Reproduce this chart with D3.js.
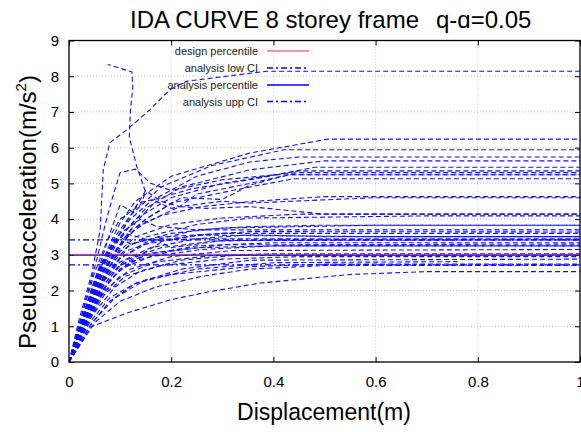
<!DOCTYPE html>
<html>
<head>
<meta charset="utf-8">
<script src="https://cdnjs.cloudflare.com/ajax/libs/d3/7.8.5/d3.min.js"></script>
<style>
  body { margin: 0; background: #fff; }
  svg { display: block; font-family: "Liberation Sans", Arial, sans-serif; }
</style>
</head>
<body>
<svg id="chart" width="581" height="432"></svg>
<script>
// tick values
var xTicks = [0, 0.2, 0.4, 0.6, 0.8, 1];
var yTicks = [0, 1, 2, 3, 4, 5, 6, 7, 8, 9];

// horizontal reference levels (m/s^2)
var designPercentile = 3.01;
var analysisPercentile = 2.99;
var analysisLowCI = 2.72;
var analysisUppCI = 3.42;

var legendLabels = ["design percentile", "analysis low CI", "analysis percentile", "analysis upp CI"];

// IDA curves, [displacement (m), pseudoacceleration (m/s^2)]
var idaCurves = [
    [[0,0],[0.02,1.2],[0.045,2.5],[0.061,3.7],[0.067,5.38],[0.08,6.14],[0.113,6.5],[0.158,7.06],[0.198,7.63],[0.23,7.86],[0.387,8.14],[1,8.14]],
    [[0,0],[0.025,1.3],[0.05,2.5],[0.075,3.4],[0.1,4.0],[0.14,4.4],[0.15,4.75],[0.132,5.5],[0.118,6.3],[0.12,7.0],[0.125,7.7],[0.123,8.12],[0.076,8.33]],
    [[0,0],[0.03,1.4],[0.055,2.5],[0.08,3.3],[0.1,3.9],[0.13,4.5],[0.2,5.2],[0.354,5.85],[0.507,6.24],[1,6.24]],
    [[0,0],[0.03,1.3],[0.06,2.6],[0.09,3.5],[0.12,4.1],[0.18,4.9],[0.28,5.5],[0.42,5.94],[1,5.94]],
    [[0,0],[0.035,1.5],[0.065,2.7],[0.09,3.4],[0.12,4.0],[0.16,4.5],[0.25,5.2],[0.354,5.6],[0.45,5.74],[1,5.74]],
    [[0,0],[0.03,1.2],[0.06,2.4],[0.1,3.5],[0.15,4.3],[0.22,4.9],[0.354,5.38],[0.5,5.63],[1,5.63]],
    [[0,0],[0.035,1.4],[0.07,2.8],[0.1,3.6],[0.135,4.45],[0.18,4.6],[0.24,4.85],[0.354,5.1],[0.48,5.45],[1,5.45]],
    [[0,0],[0.03,1.3],[0.06,2.5],[0.09,3.3],[0.13,4.0],[0.2,4.6],[0.3,5.0],[0.45,5.35],[1,5.35]],
    [[0,0],[0.04,1.6],[0.07,2.6],[0.1,3.3],[0.15,4.0],[0.22,4.6],[0.3,4.55],[0.354,4.95],[0.43,5.24],[1,5.24]],
    [[0,0],[0.03,1.2],[0.06,2.3],[0.09,3.1],[0.14,3.9],[0.2,4.45],[0.354,4.9],[0.44,5.13],[1,5.13]],
    [[0,0],[0.035,1.4],[0.065,2.5],[0.09,3.1],[0.12,3.7],[0.18,4.1],[0.26,4.35],[0.354,4.49],[0.5,4.63],[1,4.63]],
    [[0,0],[0.03,1.3],[0.06,2.4],[0.09,3.0],[0.13,3.5],[0.2,3.85],[0.3,4.03],[0.45,4.14],[1,4.14]],
    [[0,0],[0.04,1.5],[0.07,2.5],[0.1,3.1],[0.15,3.5],[0.25,3.85],[0.354,4.03],[0.7,4.09],[1,4.09]],
    [[0,0],[0.03,1.1],[0.06,2.1],[0.1,2.9],[0.15,3.35],[0.25,3.7],[0.354,3.79],[0.5,3.83],[1,3.83]],
    [[0,0],[0.035,1.3],[0.07,2.4],[0.1,2.9],[0.15,3.3],[0.25,3.55],[0.354,3.65],[1,3.64]],
    [[0,0],[0.03,1.2],[0.06,2.2],[0.1,2.8],[0.16,3.2],[0.25,3.45],[0.354,3.56],[0.5,3.51],[1,3.51]],
    [[0,0],[0.04,1.4],[0.07,2.3],[0.11,2.85],[0.18,3.2],[0.28,3.38],[0.4,3.42],[1,3.42]],
    [[0,0],[0.03,1.0],[0.06,1.9],[0.1,2.6],[0.15,3.0],[0.25,3.25],[0.4,3.34],[1,3.34]],
    [[0,0],[0.035,1.2],[0.07,2.1],[0.1,2.6],[0.16,2.95],[0.26,3.15],[0.4,3.25],[1,3.25]],
    [[0,0],[0.03,1.0],[0.06,1.8],[0.1,2.4],[0.17,2.8],[0.28,2.98],[0.4,3.03],[1,3.03]],
    [[0,0],[0.04,1.2],[0.07,1.9],[0.11,2.4],[0.18,2.7],[0.3,2.88],[0.45,2.95],[1,2.95]],
    [[0,0],[0.04,1.1],[0.08,1.8],[0.13,2.2],[0.2,2.45],[0.354,2.67],[0.5,2.74],[1,2.74]],
    [[0,0],[0.044,0.99],[0.113,1.37],[0.198,1.74],[0.276,1.97],[0.374,2.21],[0.55,2.45],[0.7,2.53],[1,2.53]],
    [[0,0],[0.03,1.3],[0.06,2.5],[0.08,3.1],[0.1,3.5],[0.12,3.3],[0.18,3.5],[0.3,3.6],[1,3.6]],
    [[0,0],[0.035,1.5],[0.06,2.6],[0.08,3.2],[0.11,3.6],[0.16,3.4],[0.25,3.45],[1,3.45]],
    [[0,0],[0.04,1.3],[0.08,2.3],[0.12,2.8],[0.2,3.1],[0.3,3.28],[1,3.3]],
    [[0,0],[0.035,1.1],[0.07,2.0],[0.12,2.6],[0.2,2.95],[0.32,3.12],[1,3.15]],
    [[0,0],[0.04,1.0],[0.08,1.7],[0.13,2.2],[0.22,2.6],[0.354,2.85],[1,2.88]],
    [[0,0],[0.045,1.1],[0.09,1.8],[0.15,2.3],[0.25,2.6],[0.4,2.78],[0.76,2.81]],
    [[0,0],[0.05,1.1],[0.1,1.7],[0.17,2.1],[0.26,2.4],[0.354,2.6],[0.5,2.7],[1,2.7]],
    [[0,0],[0.025,1.2],[0.05,2.3],[0.075,3.1],[0.1,3.6],[0.14,4.0],[0.17,3.8],[0.25,3.7],[1,3.7]],
    [[0,0],[0.03,1.6],[0.055,2.9],[0.07,3.8],[0.085,4.6],[0.1,5.3],[0.13,5.4],[0.16,5.0],[0.2,4.8],[0.3,5.1],[0.45,5.3],[1,5.3]],
    [[0,0],[0.035,1.6],[0.06,2.7],[0.08,3.6],[0.1,4.4],[0.125,4.2],[0.15,4.8],[0.18,4.5],[0.217,4.35],[0.3,4.5],[0.354,4.45],[0.6,4.6],[1,4.6]],
    [[0,0],[0.03,1.2],[0.07,2.4],[0.1,3.2],[0.13,3.9],[0.17,4.5],[0.2,4.3],[0.217,4.35],[0.25,4.7],[0.354,5.0],[0.43,5.24],[1,5.24]],
    [[0,0],[0.04,1.5],[0.08,2.8],[0.11,3.5],[0.15,3.9],[0.217,4.35],[0.27,4.3],[0.354,4.35],[0.5,4.14],[1,4.14]],
    [[0,0],[0.025,1.0],[0.05,1.9],[0.08,2.7],[0.12,3.3],[0.2,3.6],[0.3,3.75],[0.6,3.83],[1,3.83]],
    [[0,0],[0.04,1.4],[0.075,2.5],[0.11,3.1],[0.17,3.4],[0.26,3.55],[0.6,3.51],[1,3.51]],
    [[0,0],[0.03,1.1],[0.065,2.1],[0.1,2.7],[0.16,3.05],[0.25,3.2],[0.4,3.25],[1,3.25]],
    [[0,0],[0.045,1.3],[0.09,2.1],[0.14,2.55],[0.22,2.85],[0.32,2.98],[1,3.0]],
    [[0,0],[0.035,1.2],[0.07,2.2],[0.1,2.7],[0.14,3.0],[0.18,3.35],[0.2,3.2],[0.3,3.4],[1,3.42]]
];

var svg = d3.select("#chart");

var plotL = 69, plotR = 580, plotT = 40.5, plotB = 362;

var x = d3.scaleLinear().domain([0, 1]).range([plotL, plotR]);
var y = d3.scaleLinear().domain([0, 9]).range([plotB, plotT]);

svg.append("clipPath").attr("id", "plotclip")
    .append("rect")
    .attr("x", plotL).attr("y", plotT)
    .attr("width", plotR - plotL).attr("height", plotB - plotT);

// dotted grid
svg.append("g").selectAll("line")
    .data(xTicks.slice(1, -1))
    .enter().append("line")
    .attr("x1", function (d) { return x(d); })
    .attr("x2", function (d) { return x(d); })
    .attr("y1", plotT).attr("y2", plotB)
    .attr("stroke", "#c4c4c4").attr("stroke-width", 1)
    .attr("stroke-dasharray", "1,2");

svg.append("g").selectAll("line")
    .data(yTicks.slice(1, -1))
    .enter().append("line")
    .attr("x1", plotL).attr("x2", plotR)
    .attr("y1", function (d) { return y(d); })
    .attr("y2", function (d) { return y(d); })
    .attr("stroke", "#c4c4c4").attr("stroke-width", 1)
    .attr("stroke-dasharray", "1,2");

// axes with inward ticks, mirrored on top and right
var xAxisB = d3.axisBottom(x).tickValues(xTicks).tickSizeInner(-5).tickSizeOuter(0).tickPadding(14)
    .tickFormat(function (d) { return d === 0 || d === 1 ? d3.format("d")(d) : d3.format(".1f")(d); });
var xAxisT = d3.axisTop(x).tickValues(xTicks).tickSizeInner(-5).tickSizeOuter(0).tickFormat("");
var yAxisL = d3.axisLeft(y).tickValues(yTicks).tickSizeInner(-5).tickSizeOuter(0).tickPadding(10);
var yAxisR = d3.axisRight(y).tickValues(yTicks).tickSizeInner(-5).tickSizeOuter(0).tickFormat("");

function styleAxis(g) {
    g.select(".domain").remove();
    g.selectAll(".tick line").attr("stroke", "#000").attr("stroke-width", 1);
    g.selectAll(".tick text").attr("fill", "#000")
        .style("font-family", "'Liberation Sans', Arial, sans-serif")
        .style("font-size", "15px");
}

svg.append("g").attr("transform", "translate(0," + plotB + ")").call(xAxisB).call(styleAxis);
svg.append("g").attr("transform", "translate(0," + plotT + ")").call(xAxisT).call(styleAxis);
svg.append("g").attr("transform", "translate(" + plotL + ",0)").call(yAxisL).call(styleAxis);
svg.append("g").attr("transform", "translate(" + plotR + ",0)").call(yAxisR).call(styleAxis);

// legend
var legendY = [51, 68, 85, 101.5];
var legend = svg.append("g");
legend.selectAll("text")
    .data(legendLabels)
    .enter().append("text")
    .attr("x", 258)
    .attr("y", function (d, i) { return legendY[i] + 4; })
    .attr("text-anchor", "end")
    .style("font-size", "11px")
    .attr("fill", "#222")
    .text(function (d) { return d; });

var legendStyles = [
    { stroke: "#f07070", dash: null },
    { stroke: "#0000ff", dash: "6,3,2,3" },
    { stroke: "#0000ff", dash: null },
    { stroke: "#0000ff", dash: "6,3,2,3" }
];
legend.selectAll("line")
    .data(legendStyles)
    .enter().append("line")
    .attr("x1", 267).attr("x2", 309)
    .attr("y1", function (d, i) { return legendY[i]; })
    .attr("y2", function (d, i) { return legendY[i]; })
    .attr("stroke", function (d) { return d.stroke; })
    .attr("stroke-width", 1.5)
    .attr("stroke-dasharray", function (d) { return d.dash; });

// plot content
var plot = svg.append("g").attr("clip-path", "url(#plotclip)");

var line = d3.line()
    .x(function (d) { return x(d[0]); })
    .y(function (d) { return y(d[1]); });

plot.selectAll("path")
    .data(idaCurves)
    .enter().append("path")
    .attr("d", line)
    .attr("fill", "none")
    .attr("stroke", "#1010ff")
    .attr("stroke-width", 1.1)
    .attr("stroke-dasharray", "5,3");

var levels = [
    { v: analysisUppCI, stroke: "#0000ff", dash: "6,3,2,3", op: 1 },
    { v: analysisLowCI, stroke: "#0000ff", dash: "6,3,2,3", op: 1 },
    { v: analysisPercentile, stroke: "#0000ff", dash: null, op: 1 },
    { v: designPercentile, stroke: "#e03040", dash: null, op: 0.55 }
];
plot.selectAll("line")
    .data(levels)
    .enter().append("line")
    .attr("x1", x(0)).attr("x2", x(1))
    .attr("y1", function (d) { return y(d.v); })
    .attr("y2", function (d) { return y(d.v); })
    .attr("stroke", function (d) { return d.stroke; })
    .attr("stroke-opacity", function (d) { return d.op; })
    .attr("stroke-width", 1.3)
    .attr("stroke-dasharray", function (d) { return d.dash; });

// frame
svg.append("rect")
    .attr("x", plotL).attr("y", plotT)
    .attr("width", plotR - plotL).attr("height", plotB - plotT)
    .attr("fill", "none").attr("stroke", "#000").attr("stroke-width", 1.3);

// titles
var title = svg.append("text")
    .attr("y", 28)
    .style("font-size", "24px")
    .attr("fill", "#000");
title.append("tspan").attr("x", 130).text("IDA CURVE 8 storey frame");
title.append("tspan").attr("x", 436).text("q-\u0251=0.05");

svg.append("text")
    .attr("x", 324).attr("y", 420)
    .attr("text-anchor", "middle")
    .style("font-size", "23px")
    .attr("fill", "#000")
    .text("Displacement(m)");

var ylab = svg.append("text")
    .attr("transform", "translate(36,212) rotate(-90)")
    .attr("text-anchor", "middle")
    .style("font-size", "24px")
    .attr("fill", "#000");
ylab.append("tspan").text("Pseudoacceleration(m/s");
ylab.append("tspan").attr("dy", -10).style("font-size", "15px").text("2");
ylab.append("tspan").attr("dy", 10).text(")");
</script>
</body>
</html>
